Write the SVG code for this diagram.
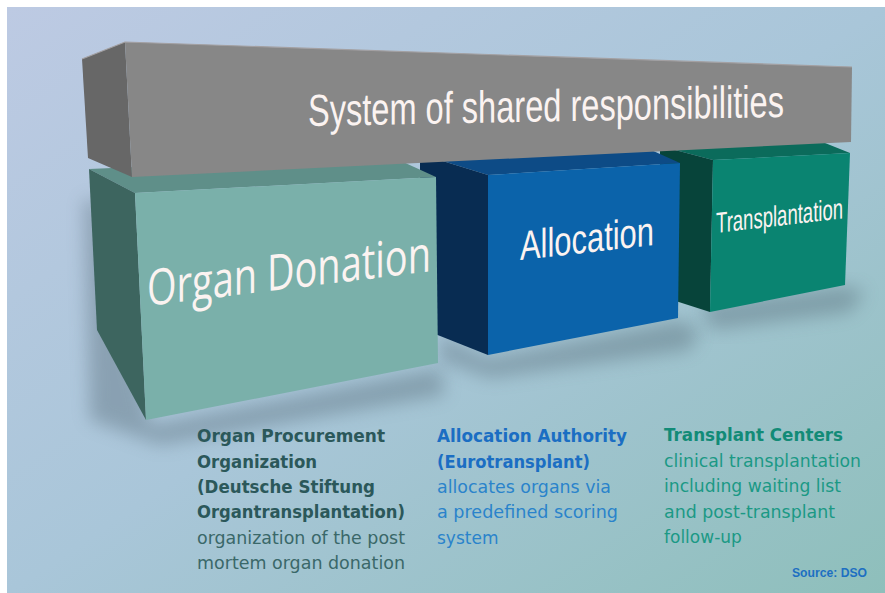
<svg xmlns="http://www.w3.org/2000/svg" width="885" height="593" viewBox="0 0 885 593">
  <defs>
    <linearGradient id="bg" x1="0" y1="0" x2="1" y2="1">
      <stop offset="0" stop-color="#bdcae3"/>
      <stop offset="0.5" stop-color="#a9c6d9"/>
      <stop offset="1" stop-color="#8ebfbb"/>
    </linearGradient>
    <filter id="soft" x="-30%" y="-30%" width="160%" height="160%">
      <feGaussianBlur stdDeviation="9"/>
    </filter>
    <style>
      .block-title { font-family: "Liberation Sans Narrow", "Liberation Sans", Arial, sans-serif; fill: #fbf3f1; }
      .donation-title { font-family: "Open Sans", "Liberation Sans", Arial, sans-serif; fill: #fbf3f1; }
      .label { font-family: "DejaVu Sans", "Liberation Sans", sans-serif; font-size: 17px; }
      .bold { font-weight: bold; }
      .c1h { fill: #2b585a; }
      .c1 { fill: #3a6869; }
      .c2h { fill: #1b6ec3; }
      .c2 { fill: #2a83cb; }
      .c3h { fill: #128b77; }
      .c3 { fill: #1b9985; }
      .shadow { fill: #4f6470; opacity: 0.38; filter: url(#soft); }
    </style>
  </defs>

  <!-- page and backdrop -->
  <rect width="885" height="593" fill="#ffffff"/>
  <rect x="7" y="7" width="878" height="586" fill="url(#bg)"/>

  <!-- soft ground shadows -->
  <g id="shadows">
    <polygon class="shadow" points="84,200 100,200 150,425 440,368 445,395 160,445 90,420"/>
    <polygon class="shadow" points="440,335 488,358 680,320 700,330 690,350 490,378 440,360"/>
    <polygon class="shadow" points="700,305 845,286 865,292 850,312 712,330"/>
  </g>

  <!-- Transplantation block (furthest back) -->
  <g id="block-transplantation">
    <polygon points="660,146 713,160 850,153 815,139" fill="#0b6b5b"/>
    <polygon points="660,146 713,160 710,312 660,296" fill="#07443a"/>
    <polygon points="713,160 850,153 845,285 710,312" fill="#0a8471"/>
    <text class="block-title" font-size="29" textLength="127" lengthAdjust="spacingAndGlyphs" transform="translate(716,233) skewY(-6.6)">Transplantation</text>
  </g>

  <!-- Allocation block -->
  <g id="block-allocation">
    <polygon points="420,154 488,175 680,163 640,145" fill="#0d4b86"/>
    <polygon points="420,154 488,175 488,355 420,328" fill="#082c52"/>
    <polygon points="488,175 680,163 678,318 488,355" fill="#0b63aa"/>
    <text class="block-title" font-size="41" textLength="134" lengthAdjust="spacingAndGlyphs" transform="translate(520,260) skewY(-6.4)">Allocation</text>
  </g>

  <!-- Organ Donation block (front) -->
  <g id="block-donation">
    <polygon points="89,169 390,156 436,177 135,193" fill="#5f8f89"/>
    <polygon points="89,169 135,193 146,420 97,330" fill="#3d655f"/>
    <polygon points="135,193 436,177 438,363 146,420" fill="#7ab0aa"/>
    <text class="donation-title" font-size="50" textLength="284" lengthAdjust="spacingAndGlyphs" transform="translate(147,306) skewY(-7)">Organ Donation</text>
  </g>

  <!-- Shared-responsibility beam resting on the three blocks -->
  <g id="beam">
    <polygon points="82,59 125,42 132,177 88,158" fill="#676767"/>
    <polygon points="125,42 852,67 851,142 132,177" fill="#878787"/>
    <polyline points="82,59 125,42 852,67" fill="none" stroke="#a3a0a2" stroke-width="1.2"/>
    <text class="block-title" font-size="45" textLength="476" lengthAdjust="spacingAndGlyphs" transform="translate(308,126) skewY(-1.1)">System of shared responsibilities</text>
  </g>

  <!-- Descriptions under the blocks -->
  <g id="label-donation" class="label">
    <text x="197" y="442" class="bold c1h" textLength="188" lengthAdjust="spacingAndGlyphs">Organ Procurement</text>
    <text x="197" y="467.5" class="bold c1h" textLength="120" lengthAdjust="spacingAndGlyphs">Organization</text>
    <text x="197" y="493" class="bold c1h" textLength="178" lengthAdjust="spacingAndGlyphs">(Deutsche Stiftung</text>
    <text x="197" y="518" class="bold c1h" textLength="208" lengthAdjust="spacingAndGlyphs">Organtransplantation)</text>
    <text x="197" y="543.5" class="c1" textLength="208" lengthAdjust="spacingAndGlyphs">organization of the post</text>
    <text x="197" y="569" class="c1" textLength="208" lengthAdjust="spacingAndGlyphs">mortem organ donation</text>
  </g>

  <g id="label-allocation" class="label">
    <text x="437" y="442" class="bold c2h" textLength="190" lengthAdjust="spacingAndGlyphs">Allocation Authority</text>
    <text x="437" y="467.5" class="bold c2h" textLength="153" lengthAdjust="spacingAndGlyphs">(Eurotransplant)</text>
    <text x="437" y="493" class="c2" textLength="174" lengthAdjust="spacingAndGlyphs">allocates organs via</text>
    <text x="437" y="518" class="c2" textLength="181" lengthAdjust="spacingAndGlyphs">a predefined scoring</text>
    <text x="437" y="543.5" class="c2">system</text>
  </g>

  <g id="label-transplantation" class="label">
    <text x="664" y="441" class="bold c3h" textLength="179" lengthAdjust="spacingAndGlyphs">Transplant Centers</text>
    <text x="664" y="466.5" class="c3" textLength="197" lengthAdjust="spacingAndGlyphs">clinical transplantation</text>
    <text x="664" y="492" class="c3" textLength="177" lengthAdjust="spacingAndGlyphs">including waiting list</text>
    <text x="664" y="517.5" class="c3" textLength="171" lengthAdjust="spacingAndGlyphs">and post-transplant</text>
    <text x="664" y="543" class="c3">follow-up</text>
  </g>

  <text id="source" x="792" y="577" font-family="Liberation Sans, Arial, sans-serif" font-size="12" font-weight="bold" fill="#1d6fc2" textLength="75" lengthAdjust="spacingAndGlyphs">Source: DSO</text>
</svg>
